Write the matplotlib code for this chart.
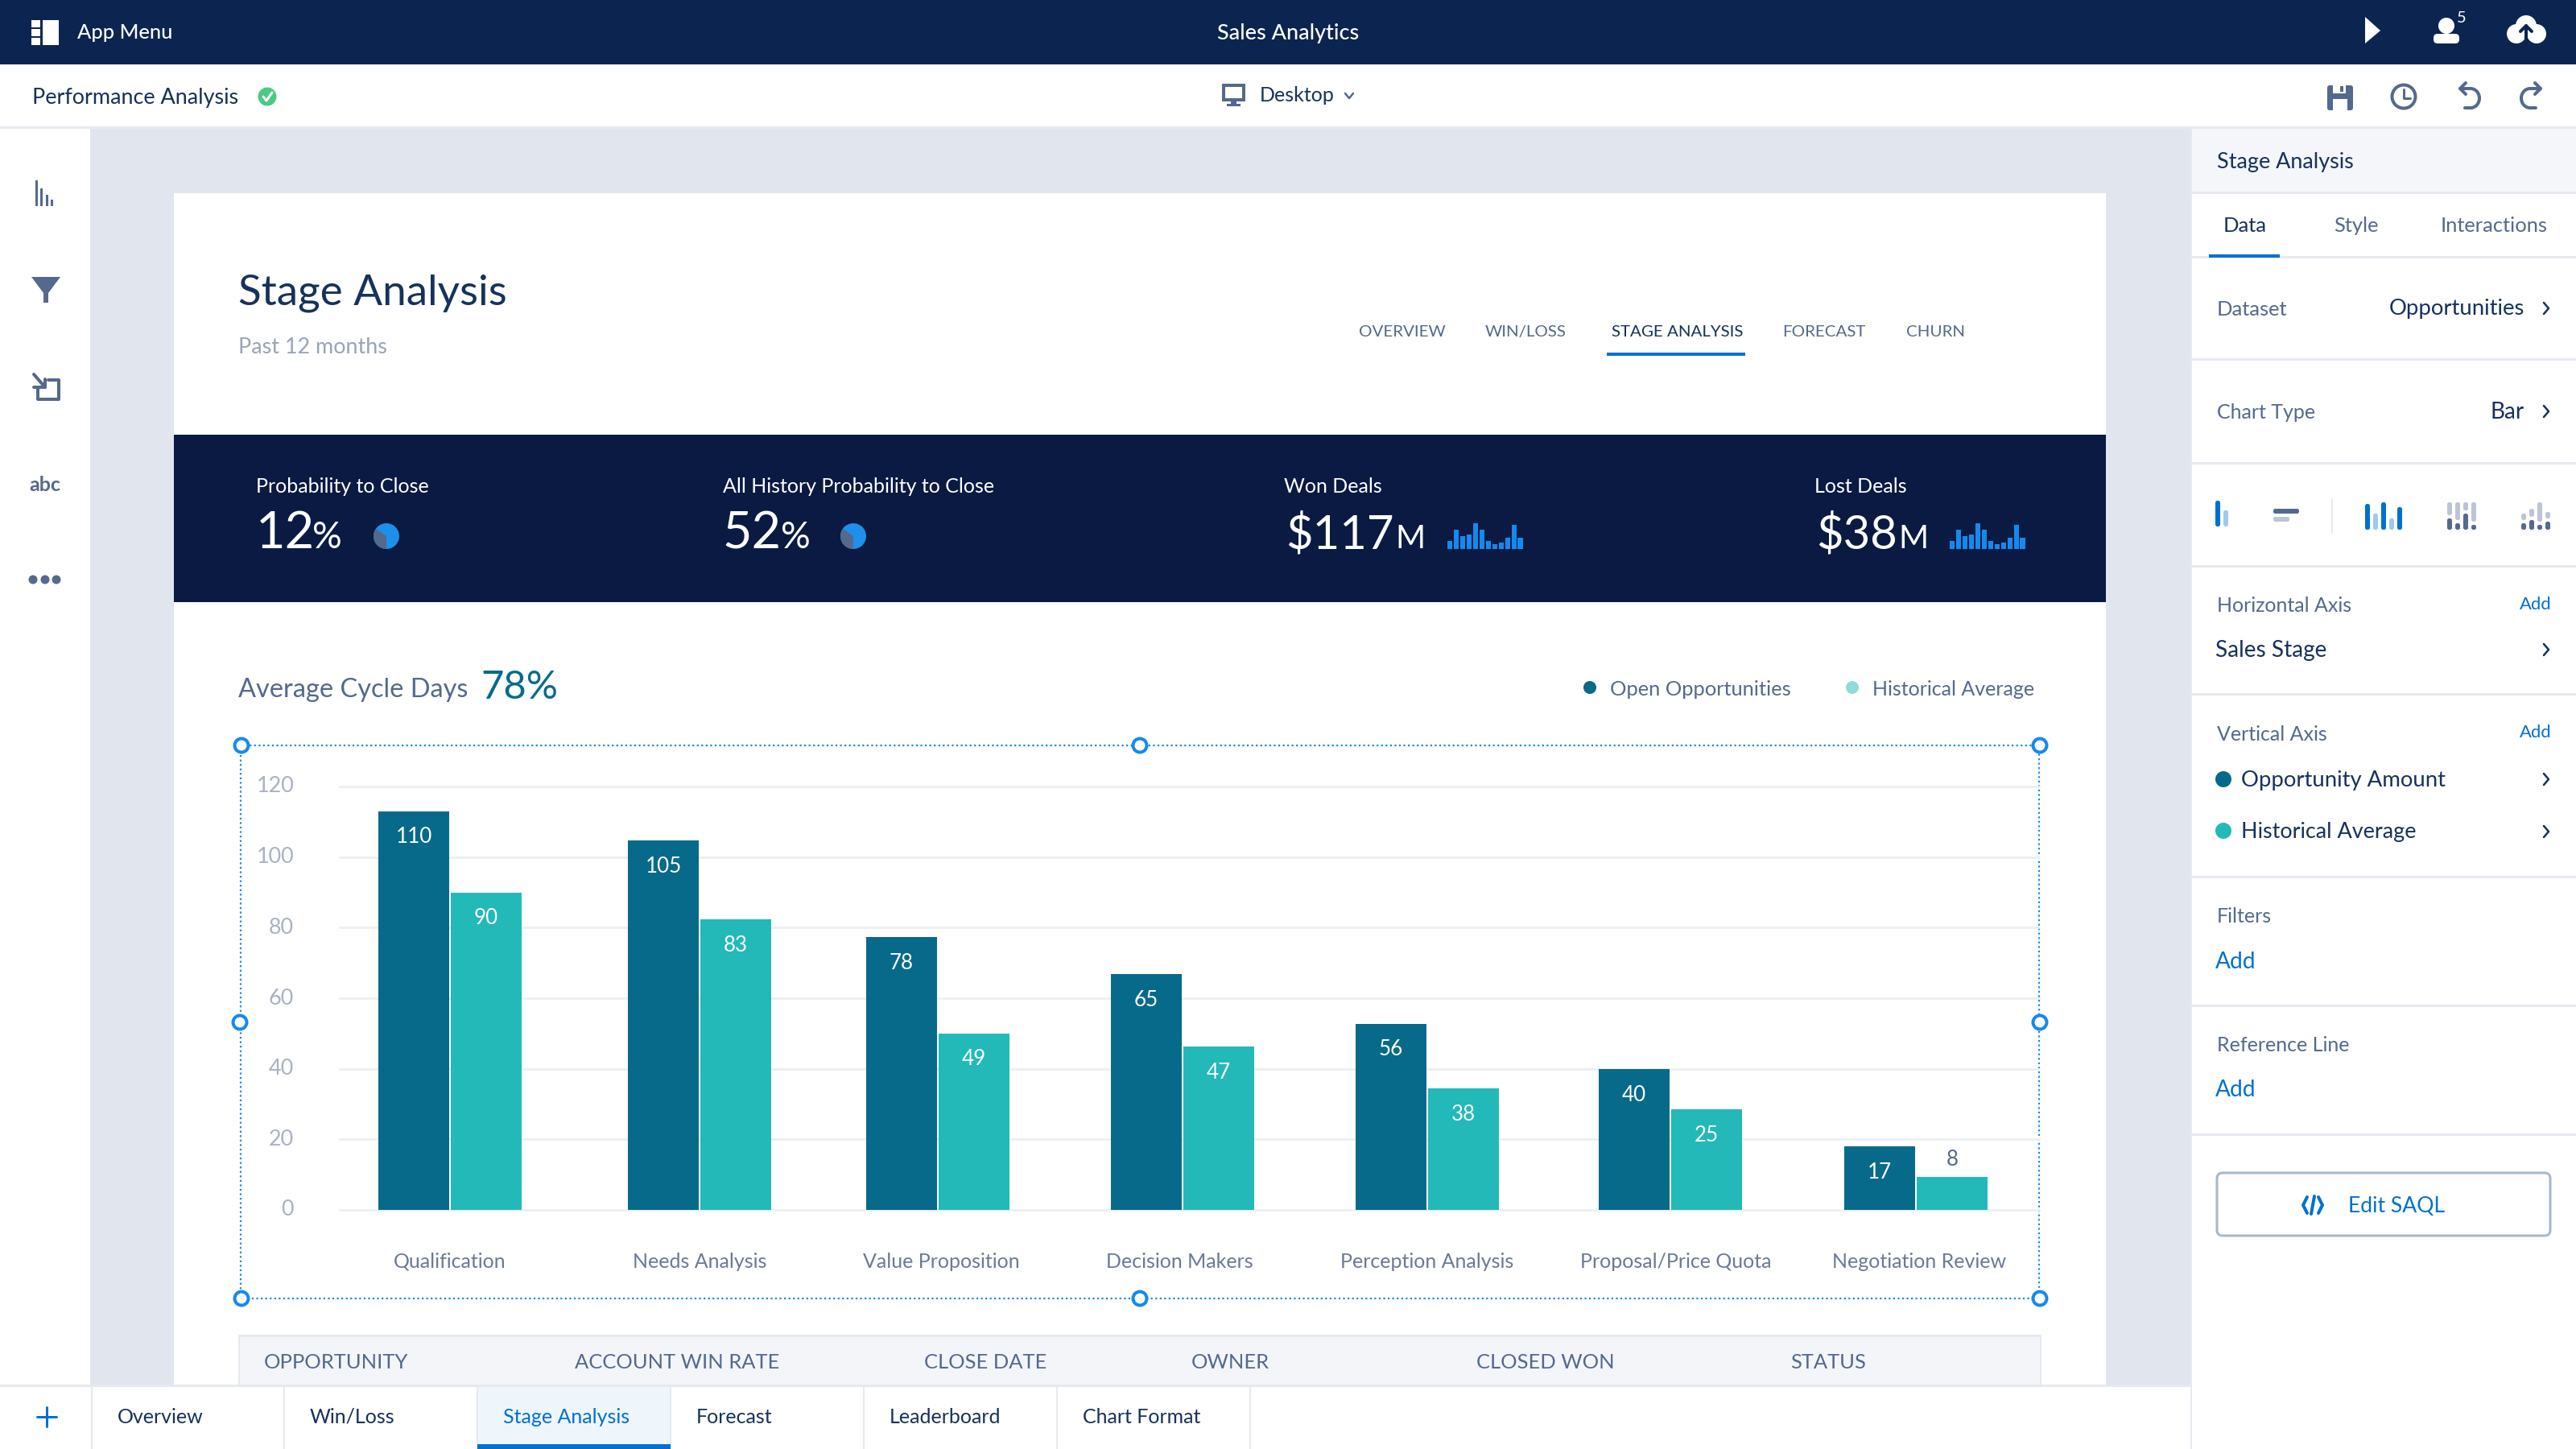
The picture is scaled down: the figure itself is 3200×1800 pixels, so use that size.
import numpy as np
import matplotlib
matplotlib.use('Agg')
import matplotlib.pyplot as plt
from matplotlib.patches import Rectangle, Circle, Wedge, Polygon, FancyBboxPatch, Arc
from matplotlib.transforms import ScaledTranslation

plt.rcParams['font.family'] = ['Lato', 'DejaVu Sans']

# DATOS DEL GRAFICO
stages = ['Qualification', 'Needs Analysis', 'Value Proposition', 'Decision Makers',
          'Perception Analysis', 'Proposal/Price Quota', 'Negotiation Review']
open_labels = [110, 105, 78, 65, 56, 40, 17]
hist_labels = [90, 83, 49, 47, 38, 25, 8]
# alturas tal como estan dibujadas (no siempre coinciden con la etiqueta)
open_heights = [113, 104.7, 77.3, 66.8, 52.7, 39.9, 18]
hist_heights = [90, 82.3, 50, 46.3, 34.4, 28.5, 9.4]
y_ticks = [0, 20, 40, 60, 80, 100, 120]

kpi_titles = ['Probability to Close', 'All History Probability to Close', 'Won Deals', 'Lost Deals']
kpi_values = ['12', '52', '$117', '$38']
kpi_units = ['%', '%', 'M', 'M']
spark_values = [10, 24, 16, 18, 32, 24, 10, 6, 8, 14, 30, 14]

nav_items = ['OVERVIEW', 'WIN/LOSS', 'STAGE ANALYSIS', 'FORECAST', 'CHURN']
table_cols = ['OPPORTUNITY', 'ACCOUNT WIN RATE', 'CLOSE DATE', 'OWNER', 'CLOSED WON', 'STATUS']
tab_names = ['Overview', 'Win/Loss', 'Stage Analysis', 'Forecast', 'Leaderboard', 'Chart Format']

# POSICIONES (pixeles de la captura)
group_x = [559, 869, 1165, 1469, 1773, 2075, 2380]
label_x = [559, 869, 1169, 1465, 1773, 2082, 2384]
nav_x = [1688, 1845, 2002, 2214, 2368]
table_x = [328, 714, 1148, 1480, 1834, 2224]
tab_edges = [114, 353, 593, 833, 1073, 1313, 1553]
kpi_x = [318, 898, 1597, 2256]
unit_x = [388, 970, 1733, 2358]
kpi_size = [63, 63, 58, 58]
unit_size = [46, 46, 40, 40]

# COLORES
NAVY = '#0c2550'
BAND = '#0a1a42'
BG = '#e0e5ee'
DARK = '#086a8a'
TEAL = '#23b9b9'
LTEAL = '#8fdcd8'
BLUE = '#0070d2'
SEL = '#1589ee'
SLATE = '#54698d'
LSLATE = '#bcc5d3'
LBLUE = '#a0c8ee'
TXT = '#16325c'
GRID = '#eceff4'
LINE = '#e6e9f0'

fig = plt.figure(figsize=(16, 9), dpi=200, facecolor='white')
ui = fig.add_axes([0, 0, 1, 1])
ui.set_xlim(0, 3200)
ui.set_ylim(1800, 0)
ui.axis('off')


def tx(x, y, s, size, color=TXT, ha='left', va='center', **kw):
    # size viene en pixeles
    if va == 'center':
        y = y + 2
    return ui.text(x, y, s, fontsize=size * 0.36, color=color, ha=ha, va=va, **kw)


def box(x0, y0, x1, y1, color, z=1):
    ui.add_patch(Rectangle((x0, y0), x1 - x0, y1 - y0, fc=color, ec='none', zorder=z))


def rbar(x0, y0, x1, y1, color, r=2.5):
    ui.add_patch(FancyBboxPatch((x0, y0), x1 - x0, y1 - y0, boxstyle='round,pad=0,rounding_size=%s' % r,
                                fc=color, ec='none', zorder=3))


def seg(xs, ys, color, lw=2.0, z=3):
    ui.plot(xs, ys, color=color, lw=lw * 0.36, zorder=z, solid_capstyle='round', solid_joinstyle='round')


def chevron(x, y, color=TXT):
    seg([x - 3, x + 3, x - 3], [y - 7, y, y + 7], color, 2.5)


# FONDOS
box(0, 0, 3200, 80, NAVY)
box(112, 158, 2722, 1720, BG)
box(216, 240, 2616, 1720, 'white')
box(216, 540, 2616, 748, BAND, 2)
box(0, 157, 3200, 160, LINE, 2)
box(2722, 160, 3200, 238, '#f4f6f9')
box(296, 1660, 2536, 1720, '#f3f5f9')
box(296, 1658, 2536, 1661, LINE)
box(296, 1660, 298, 1720, LINE)
box(2534, 1660, 2536, 1720, LINE)
box(0, 1720, 2722, 1723, LINE, 2)
box(593, 1723, 833, 1800, '#eff6fb')
box(593, 1794, 833, 1800, BLUE, 3)
box(2721, 1720, 2723, 1800, LINE)
for e in tab_edges:
    box(e - 1, 1723, e + 1, 1800, LINE, 2)

# BARRA SUPERIOR
box(53, 25, 73, 56, 'white', 3)
for yy in [25, 36, 47]:
    box(39, yy, 50, yy + 9, 'white', 3)
tx(96, 38, 'App Menu', 25.5, 'white', fontweight='medium')
tx(1600, 39, 'Sales Analytics', 27, 'white', ha='center', fontweight='medium')
ui.add_patch(Polygon([(2938, 21), (2957, 38), (2938, 54)], fc='white', ec='none', zorder=3))
ui.add_patch(Circle((3039, 32), 10, fc='white', ec='none', zorder=3))
ui.add_patch(FancyBboxPatch((3023, 42), 32, 12, boxstyle='round,pad=0,rounding_size=5', fc='white', ec='none', zorder=3))
tx(3058, 21, '5', 20, 'white', ha='center')
for cx, cy, r in [(3138, 32, 13), (3126, 42, 12), (3151, 42, 12)]:
    ui.add_patch(Circle((cx, cy), r, fc='white', ec='none', zorder=3))
seg([3138, 3138], [50, 32], NAVY, 4, 4)
seg([3131, 3138, 3145], [39, 32, 39], NAVY, 4, 4)

# SEGUNDA BARRA
tx(40, 120, 'Performance Analysis', 27)
ui.add_patch(Circle((332, 120), 11.5, fc='#4bca81', ec='none', zorder=3))
seg([327, 331, 338], [120, 125, 115], 'white', 3, 4)
ui.add_patch(Rectangle((1520, 106), 25, 18, fc='none', ec=SLATE, lw=4 * 0.36, zorder=3))
box(1529, 124, 1536, 129, SLATE, 3)
box(1524, 129, 1541, 132, SLATE, 3)
tx(1565, 116, 'Desktop', 25)
seg([1671, 1676, 1681], [116, 122, 116], SLATE, 2.5)
# guardar
ui.add_patch(FancyBboxPatch((2891, 106), 32, 31, boxstyle='round,pad=0,rounding_size=3', fc=SLATE, ec='none', zorder=3))
box(2898, 106, 2914, 116, 'white', 4)
box(2907, 107, 2911, 114, SLATE, 5)
box(2898, 123, 2916, 137, 'white', 4)
# reloj
ui.add_patch(Circle((2986, 120), 14.5, fc='none', ec=SLATE, lw=4 * 0.36, zorder=3))
seg([2986, 2986, 2994], [111, 122, 122], SLATE, 3)
# deshacer / rehacer
for cx, d in [(3066, 1), (3146, -1)]:
    ui.add_patch(Arc((cx + 3 * d, 122), 22, 24, theta1=-90 if d == 1 else 90, theta2=90 if d == 1 else 270,
                     ec=SLATE, lw=4 * 0.36, zorder=3))
    seg([cx + 3 * d, cx - 10 * d], [110, 110], SLATE, 4)
    seg([cx - 3 * d, cx - 10 * d, cx - 3 * d], [103, 110, 117], SLATE, 4)
    seg([cx + 3 * d, cx - 4 * d], [134, 134], SLATE, 4)

# BARRA IZQUIERDA
for bx, top in zip([45, 51, 58, 64], [224, 234, 242, 248]):
    box(bx - 1.5, top, bx + 1.5, 256, SLATE, 3)
ui.add_patch(Polygon([(39, 344), (75, 344), (60, 364), (60, 376), (54, 376), (54, 364)], fc=SLATE, ec='none', zorder=3))
seg([47, 47, 73, 73, 60], [482, 496, 496, 472, 472], SLATE, 4)
seg([42, 56], [465, 481], SLATE, 4)
seg([42, 56, 56], [481, 481, 471], SLATE, 4)
tx(56, 600, 'abc', 25, SLATE, ha='center', fontweight='bold')
for dx in [41, 56, 70]:
    ui.add_patch(Circle((dx, 720), 5.5, fc=SLATE, ec='none', zorder=3))

# CABECERA DE LA TARJETA
tx(296, 378, 'Stage Analysis', 53, TXT, va='baseline')
tx(296, 439, 'Past 12 months', 27, '#98a4b6', va='baseline')
for name, x in zip(nav_items, nav_x):
    tx(x, 418, name, 20.5, TXT if name == 'STAGE ANALYSIS' else SLATE, va='baseline')
box(1996, 438, 2168, 442, BLUE, 3)

# BANDA DE KPIS
for i in range(4):
    tx(kpi_x[i] - (0 if i < 2 else 2), 612, kpi_titles[i], 25, 'white', va='baseline')
    tx(kpi_x[i], 681, kpi_values[i], kpi_size[i], 'white', va='baseline')
    tx(unit_x[i], 681, kpi_units[i], unit_size[i], 'white', va='baseline')
for cx in [480, 1060]:
    ui.add_patch(Circle((cx, 666), 16, fc='#1e8fea', ec='none', zorder=3))
    ui.add_patch(Wedge((cx, 666), 16, 90, 215, fc=SLATE, ec='none', zorder=4))
for sx in [1798, 2422]:
    for k, h in enumerate(spark_values):
        x0 = sx + k * 7.95
        box(x0, 682 - h, x0 + 6.3, 682, '#1589ee', 3)

# TITULO DE LA GRAFICA Y LEYENDA
tx(296, 866, 'Average Cycle Days', 32.5, SLATE, va='baseline')
tx(597, 868, '78%', 49, DARK, va='baseline')
ui.add_patch(Circle((1975, 854), 8, fc=DARK, ec='none', zorder=3))
tx(2000, 854, 'Open Opportunities', 25.5, SLATE)
ui.add_patch(Circle((2301, 854), 8, fc=LTEAL, ec='none', zorder=3))
tx(2326, 854, 'Historical Average', 25, SLATE)

# SELECCION PUNTEADA
sel_l, sel_r, sel_t, sel_b = 299, 2533, 926, 1613
sel_m = 1416
ui.plot([sel_l, sel_r, sel_r, sel_l, sel_l], [sel_t, sel_t, sel_b, sel_b, sel_t], color=SEL,
        lw=0.8, ls=(0, (1, 1.5)), zorder=3)
for hx, hy in [(sel_l + 1, sel_t), (sel_m, sel_t), (sel_r + 1, sel_t), (sel_l - 1, 1270), (sel_r + 1, 1270),
               (sel_l + 1, sel_b), (sel_m, sel_b), (sel_r + 1, sel_b)]:
    ui.add_patch(Circle((hx, hy), 8.5, fc='white', ec=SEL, lw=4 * 0.36, zorder=6))

# TABLA
for name, x in zip(table_cols, table_x):
    tx(x, 1690, name, 25.5, SLATE)

# PESTANAS
seg([58, 58], [1748, 1772], BLUE, 3)
seg([46, 70], [1760, 1760], BLUE, 3)
for k, name in enumerate(tab_names):
    tx(tab_edges[k] + 32, 1758, name, 25, BLUE if k == 2 else TXT)

# PANEL DERECHO
for yy in [239, 319, 446, 575, 703, 862, 1089, 1249, 1409]:
    box(2722, yy - 1.5, 3200, yy + 1.5, LINE, 2)
box(2721, 160, 2723, 1720, LINE, 2)
tx(2754, 200, 'Stage Analysis', 27)
tx(2762, 278, 'Data', 25.5)
tx(2899, 278, 'Style', 25.5, SLATE)
tx(3032, 278, 'Interactions', 25.5, SLATE)
box(2744, 316, 2832, 320, BLUE, 3)
tx(2754, 383, 'Dataset', 25.5, SLATE)
tx(3136, 382, 'Opportunities', 27.5, ha='right')
chevron(3163, 383)
tx(2754, 510, 'Chart Type', 25, SLATE)
tx(3136, 510, 'Bar', 28, ha='right')
chevron(3163, 511)

# iconos de tipo de grafica
rbar(2752, 622, 2758, 654, BLUE)
rbar(2762, 634, 2768, 654, LBLUE)
rbar(2824, 632, 2856, 638, SLATE)
rbar(2824, 642, 2844, 648, LSLATE)
box(2896, 620, 2898, 662, LINE, 2)
for bx, top, col in zip([2938, 2948, 2958, 2968, 2978], [626, 638, 624, 644, 630], [BLUE, LBLUE, BLUE, LBLUE, BLUE]):
    rbar(bx, top, bx + 6, 658, col)
for bx, top, gb in zip([3040, 3050, 3060, 3070], [644, 650, 638, 652], [640, 646, 634, 648]):
    rbar(bx, top, bx + 6, 658, SLATE)
    rbar(bx, 624, bx + 6, gb, LSLATE)
for bx, top, gt, gb in zip([3132, 3142, 3152, 3162], [650, 646, 652, 648], [638, 632, 624, 636], [646, 642, 648, 644]):
    rbar(bx, top, bx + 6, 658, SLATE)
    rbar(bx, gt, bx + 6, gb, LSLATE)

tx(2754, 750, 'Horizontal Axis', 25, SLATE)
tx(3170, 749, 'Add', 22, BLUE, ha='right')
tx(2752, 806, 'Sales Stage', 28)
chevron(3163, 807)
tx(2754, 910, 'Vertical Axis', 25, SLATE)
tx(3170, 908, 'Add', 22, BLUE, ha='right')
ui.add_patch(Circle((2762, 968), 10, fc=DARK, ec='none', zorder=3))
tx(2784, 968, 'Opportunity Amount', 27.5)
chevron(3163, 968)
ui.add_patch(Circle((2762, 1032), 10, fc=TEAL, ec='none', zorder=3))
tx(2784, 1032, 'Historical Average', 27)
chevron(3163, 1033)
tx(2754, 1136, 'Filters', 25, SLATE)
tx(2752, 1193, 'Add', 28, BLUE)
tx(2754, 1296, 'Reference Line', 25, SLATE)
tx(2752, 1352, 'Add', 28, BLUE)
ui.add_patch(FancyBboxPatch((2754, 1457), 414, 78, boxstyle='round,pad=0,rounding_size=7', fc='white',
                            ec='#a8b7cc', lw=3 * 0.36, zorder=3))
seg([2866, 2861, 2866], [1487, 1497, 1507], BLUE, 4, 4)
seg([2880, 2885, 2880], [1487, 1497, 1507], BLUE, 4, 4)
seg([2875, 2871], [1486, 1508], BLUE, 4, 4)
tx(2917, 1496, 'Edit SAQL', 26.5, BLUE, zorder=4)

# GRAFICA DE BARRAS
y0_px, y120_px, x0_px, x1_px = 1503, 977, 422, 2533
ax = fig.add_axes([x0_px / 3200, 1 - y0_px / 1800, (x1_px - x0_px) / 3200, (y0_px - y120_px) / 1800])
ax.patch.set_alpha(0)
ax.set_xlim(x0_px, x1_px)
ax.set_ylim(0, 120)
for s in ax.spines.values():
    s.set_visible(False)
ax.set_yticks(y_ticks)
ax.set_yticklabels([str(v) for v in y_ticks], fontsize=27 * 0.36, color='#a8b2c3')
ax.set_xticks(label_x)
ax.set_xticklabels(stages, fontsize=25 * 0.36, color='#6b7a94')
ax.tick_params(axis='y', length=0, pad=20.5)
ax.tick_params(axis='x', length=0, pad=19)
for lab in ax.get_yticklabels():
    lab.set_transform(lab.get_transform() + ScaledTranslation(0, 2.5 / 200, fig.dpi_scale_trans))
ax.grid(axis='y', color=GRID, lw=1.0, zorder=0)
ax.set_axisbelow(True)
for sp_line in ax.get_ygridlines():
    sp_line.set_clip_on(False)

gx = np.array(group_x)
ax.bar(gx - 45, open_heights, width=88, color=DARK, zorder=2)
ax.bar(gx + 45, hist_heights, width=88, color=TEAL, zorder=2)
unit = (y0_px - y120_px) / 120
for i in range(len(stages)):
    ax.text(gx[i] - 45, open_heights[i] - 32 / unit, str(open_labels[i]), color='white', fontsize=26 * 0.36,
            ha='center', va='center', zorder=3)
    if hist_heights[i] > 15:
        ax.text(gx[i] + 45, hist_heights[i] - 32 / unit, str(hist_labels[i]), color='white', fontsize=26 * 0.36,
                ha='center', va='center', zorder=3)
    else:
        ax.text(gx[i] + 45, hist_heights[i] + 21 / unit, str(hist_labels[i]), color=SLATE, fontsize=26 * 0.36,
                ha='center', va='center', zorder=3)

fig.savefig('out.png', dpi=200, facecolor='white')
